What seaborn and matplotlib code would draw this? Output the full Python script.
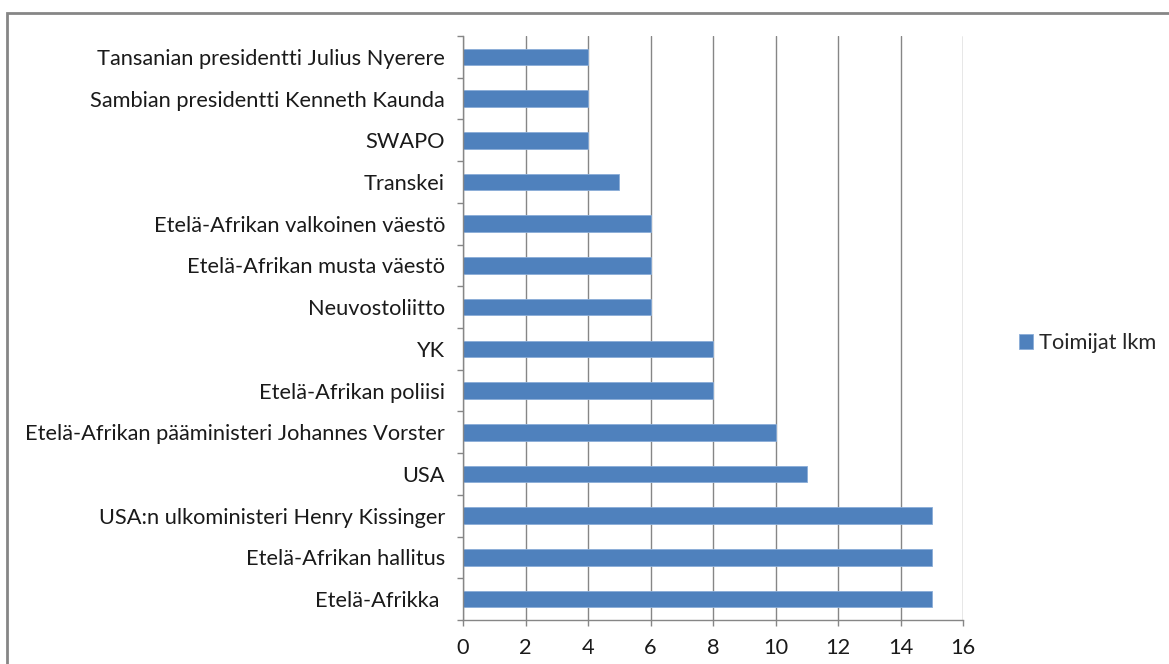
import numpy as np
import pandas as pd
import matplotlib.pyplot as plt
import seaborn as sns
from matplotlib.patches import Rectangle
from matplotlib.ticker import FixedLocator

# Actors and their counts (top to bottom as shown)
actors = [
    'Tansanian presidentti Julius Nyerere',
    'Sambian presidentti Kenneth Kaunda',
    'SWAPO',
    'Transkei',
    'Etelä-Afrikan valkoinen väestö',
    'Etelä-Afrikan musta väestö',
    'Neuvostoliitto',
    'YK',
    'Etelä-Afrikan poliisi',
    'Etelä-Afrikan pääministeri Johannes Vorster',
    'USA',
    "USA:n ulkoministeri Henry Kissinger",
    'Etelä-Afrikan hallitus',
    'Etelä-Afrikka ',
]
counts = [4, 4, 4, 5, 6, 6, 6, 8, 8, 10, 11, 15, 15, 15]
series_name = 'Toimijat lkm'
x_ticks = [0, 2, 4, 6, 8, 10, 12, 14, 16]

df = pd.DataFrame({'actor': actors, 'count': counts})

sns.set_style('white')
plt.rcParams['font.family'] = ['Lato', 'DejaVu Sans']

grid_col = '#868686'
bar_col = '#4F81BD'
text_col = '#1a1a1a'
fs = 15.7

fig = plt.figure(figsize=(11.69, 6.64), dpi=100)
ax = fig.add_axes([463 / 1169, 1 - 620 / 664, 500 / 1169, 584 / 664])

sns.barplot(data=df, x='count', y='actor', orient='h', width=0.4,
            color=bar_col, saturation=1, edgecolor='#8AADD8', linewidth=0.6,
            label=series_name, ax=ax)

ax.set_xlim(0, 16)
ax.set_ylim(len(actors) - 0.5, -0.5)
ax.set_xticks(x_ticks)
ax.set_xlabel('')
ax.set_ylabel('')

ax.grid(axis='x', color=grid_col, linewidth=1)
ax.set_axisbelow(True)
for side in ['top', 'right']:
    ax.spines[side].set_visible(False)
for side in ['left', 'bottom']:
    ax.spines[side].set_color(grid_col)
    ax.spines[side].set_linewidth(1)

ax.yaxis.set_minor_locator(FixedLocator(np.arange(-0.5, len(actors), 1)))
ax.tick_params(axis='y', which='major', length=0, pad=13, labelsize=fs, labelcolor=text_col)
ax.tick_params(axis='y', which='minor', length=4, color=grid_col, width=1, left=True)
ax.tick_params(axis='x', which='major', length=4, color=grid_col, width=1, bottom=True,
               pad=9, labelsize=fs, labelcolor=text_col)

ax.legend(loc='center left', bbox_to_anchor=(1010 / 1169, 1 - 343 / 664),
          bbox_transform=fig.transFigure, frameon=False, fontsize=fs,
          handlelength=0.65, handleheight=0.65, handletextpad=0.3, borderaxespad=0)

# Chart area border (Excel style)
fig.patches.append(Rectangle((7 / 1169, -0.05), 1.1, 1 - 13 / 664 + 0.05,
                             transform=fig.transFigure, fill=False,
                             edgecolor=grid_col, linewidth=2, figure=fig))

fig.savefig('out.png', dpi=100)
